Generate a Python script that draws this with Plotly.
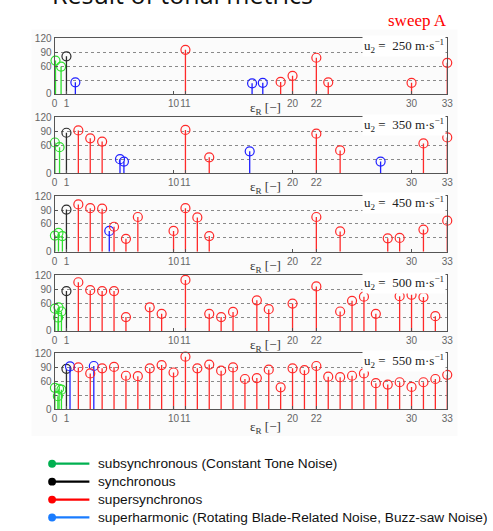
import plotly.graph_objects as go

W, H = 493, 531

# rotor tip speeds of the five panels [m/s]
speeds = [250, 350, 450, 500, 550]

# engine order eps_R [-] and tone level for each tone class, per speed
sub_250_x = [0.08, 0.55]
sub_250_y = [72, 59]
syn_250_x = [1]
syn_250_y = [81]
sup_250_x = [11, 19, 20, 22, 23, 30, 33]
sup_250_y = [95, 26, 39, 78, 25, 24, 67]
har_250_x = [1.75, 16.6, 17.5]
har_250_y = [25, 23, 24]

sub_350_x = [0.03, 0.42]
sub_350_y = [66, 56]
syn_350_x = [1]
syn_350_y = [87]
sup_350_x = [2, 3, 4, 11, 13, 22, 24, 31, 33]
sup_350_y = [92, 75, 68, 93, 34, 85, 49, 64, 77]
har_350_x = [5.5, 5.83, 16.4, 27.4]
har_350_y = [30, 25, 47, 25]

sub_450_x = [0.03, 0.33, 0.66]
sub_450_y = [35, 41, 34]
syn_450_x = [1]
syn_450_y = [91]
sup_450_x = [2, 3, 4, 5, 6, 7, 10, 11, 12, 13, 22, 24, 28, 29, 31, 33]
sup_450_y = [102, 94, 93, 54, 28, 75, 45, 94, 74, 34, 75, 44, 29, 30, 48, 67]
har_450_x = [4.6]
har_450_y = [45]

sub_500_x = [0.03, 0.3, 0.33, 0.58]
sub_500_y = [48, 29, 51, 42]
syn_500_x = [1]
syn_500_y = [86]
sup_500_x = [2, 3, 4, 5, 6, 8, 9, 11, 13, 14, 15, 17, 18, 20, 22, 24, 25, 26,
             27, 29, 30, 31, 32]
sup_500_y = [105, 88, 86, 86, 30, 51, 37, 110, 37, 30, 41, 66, 47, 59, 96, 42,
             65, 74, 37, 75, 78, 73, 32]
har_500_x = []
har_500_y = []

sub_550_x = [0.03, 0.28, 0.38, 0.58]
sub_550_y = [46, 28, 44, 42]
syn_550_x = [1]
syn_550_y = [87]
sup_550_x = [2, 3, 4, 5, 6, 7, 8, 9, 10, 11, 12, 13, 14, 15, 16, 17, 18, 19,
             20, 21, 22, 23, 24, 25, 26, 27, 28, 29, 30, 31, 32, 33]
sup_550_y = [90, 77, 88, 91, 72, 71, 88, 95, 79, 113, 88, 96, 83, 90, 65, 67,
             85, 47, 88, 84, 93, 70, 69, 72, 77, 56, 53, 58, 48, 58, 65, 74]
har_550_x = [1.3, 3.3]
har_550_y = [92, 93]

x_tick_vals = [0, 1, 10, 11, 20, 22, 30, 33]
y_tick_vals = [0, 60, 90, 120]
y_minor_vals = [30]

legend_labels = [
    "subsynchronous (Constant Tone Noise)",
    "synchronous",
    "supersynchronos",
    "superharmonic (Rotating Blade-Related Noise, Buzz-saw Noise)",
]
legend_colors = ["#00b050", "#000000", "#ff0000", "#1a7cff"]

# stem colours used inside the axes
stem_colors = {"sub": "#2ee02e", "syn": "#2b2b2b", "sup": "#ff2a2a", "har": "#1f1fff"}

panels = [
    {"sub": (sub_250_x, sub_250_y), "syn": (syn_250_x, syn_250_y),
     "sup": (sup_250_x, sup_250_y), "har": (har_250_x, har_250_y)},
    {"sub": (sub_350_x, sub_350_y), "syn": (syn_350_x, syn_350_y),
     "sup": (sup_350_x, sup_350_y), "har": (har_350_x, har_350_y)},
    {"sub": (sub_450_x, sub_450_y), "syn": (syn_450_x, syn_450_y),
     "sup": (sup_450_x, sup_450_y), "har": (har_450_x, har_450_y)},
    {"sub": (sub_500_x, sub_500_y), "syn": (syn_500_x, syn_500_y),
     "sup": (sup_500_x, sup_500_y), "har": (har_500_x, har_500_y)},
    {"sub": (sub_550_x, sub_550_y), "syn": (syn_550_x, syn_550_y),
     "sup": (sup_550_x, sup_550_y), "har": (har_550_x, har_550_y)},
]

# panel geometry in pixels
x_left, x_right = 52.5, 452.5
panel_tops = [33, 114, 194.5, 275.5, 355.5]
panel_h = 57
label_gap = [15, 15, 15, 15, 19]


def px_x(p):
    return p / W


def px_y(p):
    return 1 - p / H


fig = go.Figure()
layout = dict(
    width=W, height=H,
    margin=dict(l=0, r=0, t=0, b=0),
    paper_bgcolor="white", plot_bgcolor="white",
    showlegend=False,
    font=dict(family="Liberation Sans, Arial", size=10, color="#555555"),
)
annotations = []
shapes = []

# faint slide background behind the plot block
shapes.append(dict(type="rect", xref="paper", yref="paper",
                   x0=px_x(29), x1=px_x(463), y0=px_y(440), y1=px_y(24),
                   fillcolor="#fbfbfb", line=dict(width=0), layer="below"))

grid_style = dict(showgrid=True, gridcolor="#8a8a8a", griddash="dot", gridwidth=1)

for i, (speed, panel) in enumerate(zip(speeds, panels)):
    n = i + 1
    xa = "x" if n == 1 else f"x{n}"
    ya = "y" if n == 1 else f"y{n}"
    top = panel_tops[i]
    bot = top + panel_h
    for cls in ["sub", "syn", "har", "sup"]:
        xs, ys = panel[cls]
        if not xs:
            continue
        col = stem_colors[cls]
        fig.add_trace(go.Scatter(
            x=xs, y=ys, mode="markers", xaxis=xa, yaxis=ya,
            marker=dict(symbol="circle-open", size=9, color=col,
                        line=dict(width=1.2, color=col)),
            error_y=dict(type="data", symmetric=False, array=[0] * len(ys),
                         arrayminus=ys, width=0, thickness=1.3, color=col),
            cliponaxis=False, hoverinfo="skip",
        ))
    layout["xaxis" if n == 1 else f"xaxis{n}"] = dict(
        domain=[px_x(x_left), px_x(x_right)], anchor=ya, range=[0, 33],
        tickvals=x_tick_vals, tickangle=0, ticks="inside", ticklen=3,
        tickcolor="#555555", showgrid=False, zeroline=False, showline=True,
        mirror=True, linecolor="#555555", linewidth=1,
        tickfont=dict(size=10, color="#666666"), fixedrange=True,
    )
    layout["yaxis" if n == 1 else f"yaxis{n}"] = dict(
        domain=[px_y(bot), px_y(top)], anchor=xa, range=[0, 120],
        tickvals=y_tick_vals, ticks="inside", ticklen=3, tickcolor="#555555",
        zeroline=False, showline=True, mirror=True,
        linecolor="#555555", linewidth=1,
        minor=dict(tickvals=y_minor_vals, ticks="inside", ticklen=2,
                   tickcolor="#555555", **grid_style),
        tickfont=dict(size=10, color="#666666"), fixedrange=True,
        **grid_style,
    )
    # tip-speed label in the upper right corner
    annotations.append(dict(
        xref="paper", yref="paper", x=px_x(451), y=px_y(top + 7.5),
        xanchor="right", yanchor="middle", showarrow=False,
        text=f"u<sub>2</sub> =  {speed} m·s<sup>−1</sup>",
        font=dict(family="Liberation Serif, Times New Roman", size=13, color="#222222"),
        bgcolor="white", borderpad=1,
    ))
    # axis label below each panel
    annotations.append(dict(
        xref="paper", yref="paper", x=px_x(267), y=px_y(bot + label_gap[i]),
        xanchor="center", yanchor="middle", showarrow=False,
        text="ε<sub>R</sub> [−]",
        font=dict(family="Liberation Serif, Times New Roman", size=13, color="#333333"),
    ))

# slide heading and sweep tag
annotations.append(dict(
    xref="paper", yref="paper", x=px_x(48), y=px_y(7.5), xanchor="left",
    yanchor="bottom", showarrow=False, text="Result of tonal metrics",
    font=dict(family="Open Sans", size=25, color="#111111"),
))
annotations.append(dict(
    xref="paper", yref="paper", x=px_x(454), y=px_y(27), xanchor="right",
    yanchor="bottom", showarrow=False, text="sweep A",
    font=dict(family="Liberation Serif, Times New Roman", size=17, color="#ff0000"),
))

# legend block
legend_rows = [468.3, 486.7, 505, 523.3]
for label, col, row in zip(legend_labels, legend_colors, legend_rows):
    shapes.append(dict(type="line", xref="paper", yref="paper",
                       x0=px_x(49), x1=px_x(88), y0=px_y(row), y1=px_y(row),
                       line=dict(color=col, width=2.2)))
    shapes.append(dict(type="circle", xref="paper", yref="paper",
                       x0=px_x(46), x1=px_x(54), y0=px_y(row + 4), y1=px_y(row - 4),
                       fillcolor=col, line=dict(color=col, width=0)))
    annotations.append(dict(
        xref="paper", yref="paper", x=px_x(95), y=px_y(row), xanchor="left",
        yanchor="middle", showarrow=False, text=label,
        font=dict(family="Liberation Sans, Arial", size=13.7, color="#111111"),
    ))

layout["annotations"] = annotations
layout["shapes"] = shapes
fig.update_layout(**layout)
fig.write_html("out.html", post_script="document.body.style.margin='0';")
